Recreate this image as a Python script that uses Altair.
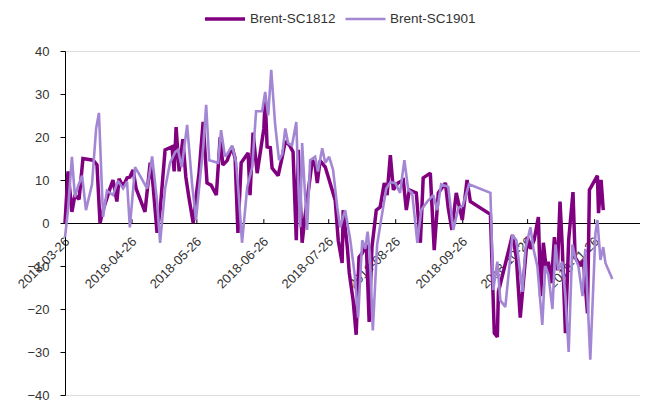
import altair as alt
import pandas as pd

series_names = ["Brent-SC1812", "Brent-SC1901"]
series_colors = ["#800080", "#A487D4"]

# day offsets from 2018-03-26 and spread values
sc1812_days = [0, 1.4, 3.2, 4.6, 6.5, 8.3, 13, 14.8, 16.2, 17.6, 20.8, 22.2, 24, 25, 26.9, 28.7, 30,
               31.5, 32.9, 37, 39.4, 40.7, 42.6, 44, 46.3, 49.5, 50.5, 51.4, 52.8, 54.5, 55.9, 57.3,
               59.3, 60.6, 62, 63.9, 65.7, 67.6, 70, 71.8, 73, 75, 77.3, 78.7, 80, 81.5, 84.7, 85.6,
               87, 88.9, 92, 92.6, 93.5, 95, 95.8, 98.6, 100.5, 101.9, 104, 105.5, 107, 107.9,
               109.7, 111, 114.4, 115.7, 116.7, 118, 120.4, 121.8, 125, 126.4, 128.2, 128.7, 130.6,
               131.5, 133.3, 134.7, 136, 137.5, 139.4, 140.7, 142, 144, 145.8, 147.7, 149, 150.5,
               151.9, 154, 156.5, 157.9, 159.3, 162.5, 164.4, 165.7, 169, 170.8, 172.7, 176, 177.3,
               179, 181, 183.8, 186, 187.5, 196.8, 198.6, 200, 200.5, 207, 208.8, 210.6, 213.9,
               215.3, 217, 219, 220, 221.3, 222.7, 223.6, 225, 226.4, 227.8, 229, 230, 231.5, 233,
               235, 236, 238.4, 239.8, 241.7, 242.6, 246.3, 246.8, 248, 249]
sc1812_vals = [0, 12, 2.6, 6.5, 5.5, 15, 14.6, 13.5, 0, 3, 8, 10, 5, 10.3, 8.5, 10.5, 10.7,
               12.3, 8, 2.6, 14, 9, -2.3, 3, 17, 17.7, 12, 22.3, 12, 19.5, 10.7, 6,
               0, 6, 11.6, 23.5, 9.3, 8.8, 6.5, 20, 13.5, 14.5, 17.7, 15, -2.3, 14, 16.3, 6.5,
               21, 11.6, 22, 29, 17.7, 17.5, 12.8, 11, 15.4, 19, 18, 16.5, -4, 17,
               -4.6, 1.4, 14.6, 13.5, 9.3, 14.5, 13, 10.7, 5.3, -4, -9.3, 3, -5.6,
               -11.6, -18, -26, -8, -7, -5, -23, -5.6, 3, 3.7, 9.3, 6.5, 15.8,
               7.7, 9.3, 10, 3, 7.7, 7, -4.6, 10.5, 11.6, -6.3, 7, 9.3, 3.5,
               -1.6, 7, 0.7, 10, 5, 2, -25.6, -26.5, -16, -2.8, -8, -22, -3.2,
               -6, -4, 1.4, -17, -4.6, -11, -9, -14, -3.3, -11, 5, -5, -25.6, -4,
               7.2, -8, -10, -8.6, -21, 7.7, 11, 2.3, 10, 3]

sc1901_days = [0, 1.4, 3.2, 4.6, 6, 7.9, 9.7, 12.5, 14.4, 15.7, 17.6, 19.4, 22.2, 24.5, 26.9,
               28.7, 30, 32.4, 34.7, 38, 40.3, 42.6, 44, 46.3, 48.6, 51, 52.3, 54, 56.5, 58.8,
               60.6, 62.5, 64, 65.3, 66.7, 70.8, 72.2, 74, 75, 77.3, 79.2, 80.6, 81.9, 84.3,
               86.6, 88.4, 91.2, 92.6, 94, 95.4, 97.2, 99, 100.5, 101.9, 103.2, 105, 107, 108,
               108.8, 109.7, 111, 112, 113.4, 115.7, 117, 119, 120.4, 122.2, 124, 126, 127.3,
               129.6, 132, 134, 135.6, 137.5, 138.9, 140, 141, 142.4, 144.4, 147.2, 148.6, 150.5,
               152.8, 155, 157, 158.8, 160.6, 163, 164.8, 167.6, 170.4, 172.2, 174, 177.3, 179.6,
               182, 184, 186.9, 196.8, 198.1, 200, 201.4, 203.7, 207, 208.8, 210, 211.6, 213,
               215.3, 216.7, 218.5, 220.8, 222.2, 223.6, 225.5, 226.9, 228.2, 230, 231.5, 233,
               234.7, 236, 237.5, 239.4, 240.7, 243, 245.4, 246.3, 247.7, 249, 250, 253.2]
sc1901_vals = [-3.3, 3, 15.4, 6, 8.5, 11, 3, 9, 22, 25.6, 1.4, 7.5, 6.5, 9.8, 8,
               9.6, -1, 13, 11, 8, 15.5, 5, -4.6, 8, 14, 16.5, 17, 13, 22.8, 9,
               0.7, 10.5, 18, 27.5, 14.6, 14, 21.6, 15.5, 16, 18, 14, 5, -4.6, 8.4,
               13, 26, 26, 30.5, 25, 35.6, 23, 14.6, 16, 22, 18.6, 18, 23.5, 8,
               -1, 18.6, 7, -1.6, 14.6, 15.4, 12, 17.4, 14, 15.4, 12.4, 3.5, -1,
               3, -4, -12, -22, -4, -6, -2, -7, -25, -5, 3.7, 8, 9.5,
               9.3, 7, 14.6, 7.7, 7, -4.6, 3, 5, 6.5, 3, 9, 8.4, -1.6,
               3.5, 4, 9, 7, -15.6, -9, -18, -19.5, -2.8, -4, -9, -16, -6,
               -1, -6, -10, -23.7, -10, -12, -20, -5, -11, -9, -17, -30,
               -5, -8, -10, -17, -6, -31.8, -2.3, 0.7, -8.6, -5.6, -9.3, -13]

tick_months = [3, 4, 5, 6, 7, 8, 9, 10, 11]
y_ticks = [-40, -30, -20, -10, 0, 10, 20, 30, 40]

base_date = pd.Timestamp("2018-03-26")


def build(days, vals, name):
    return pd.DataFrame({
        "date": [base_date + pd.Timedelta(days=d) for d in days],
        "value": vals,
        "series": name,
    })


data = pd.concat([
    build(sc1812_days, sc1812_vals, series_names[0]),
    build(sc1901_days, sc1901_vals, series_names[1]),
], ignore_index=True)

tick_df = pd.DataFrame({
    "date": [pd.Timestamp(2018, m, 26) for m in tick_months],
    "y0": 0.0,
    "y1": 0.9,
})

x_scale = alt.Scale(domain=[alt.DateTime(year=2018, month=3, date=26),
                            alt.DateTime(year=2018, month=12, date=17)])
y_scale = alt.Scale(domain=[-40, 40], nice=False, zero=False)

FONT = "Liberation Sans"

lines = alt.Chart(data).mark_line(strokeJoin="miter", strokeMiterLimit=2).encode(
    x=alt.X("date:T", scale=x_scale, axis=alt.Axis(
        title=None, values=[alt.DateTime(year=2018, month=m, date=26) for m in tick_months],
        format="%Y-%m-%d", labelAngle=-45, labelAlign="right", labelBaseline="middle",
        labelPadding=16, labelOffset=2, ticks=False, offset=-172, grid=False,
        domainColor="#000000", domainWidth=1.2, labelFont=FONT, labelFontSize=13,
        labelColor="#333333", labelOverlap=False, labelBound=False)),
    y=alt.Y("value:Q", scale=y_scale, axis=alt.Axis(
        title=None, values=y_ticks, grid=False, tickSize=5, tickColor="#000000",
        domainColor="#000000", labelPadding=11, labelFont=FONT,
        labelFontSize=13, labelColor="#333333")),
    color=alt.Color("series:N", scale=alt.Scale(domain=series_names, range=series_colors),
                    legend=alt.Legend(title=None, orient="none", direction="horizontal",
                                      legendX=138, legendY=-54, symbolType="stroke",
                                      symbolSize=1600, symbolStrokeWidth=3.5,
                                      labelFont=FONT, labelFontSize=13.5,
                                      labelColor="#333333", columnPadding=4,
                                      labelOffset=3)),
    strokeWidth=alt.StrokeWidth("series:N", scale=alt.Scale(domain=series_names, range=[3.5, 2.6]),
                                legend=None),
)

ticks = alt.Chart(tick_df).mark_rule(color="#000000", strokeWidth=1).encode(
    x=alt.X("date:T", scale=x_scale),
    y=alt.Y("y0:Q", scale=y_scale),
    y2="y1:Q",
)

chart = alt.layer(ticks, lines).properties(
    width=575,
    height=344,
    autosize=alt.AutoSizeParams(type="none"),
    padding={"left": 57, "top": 43, "right": 0, "bottom": 10},
).configure_view(stroke=None).configure(background="#ffffff")

chart.save("out.html", embed_options={"renderer": "svg", "actions": False})
